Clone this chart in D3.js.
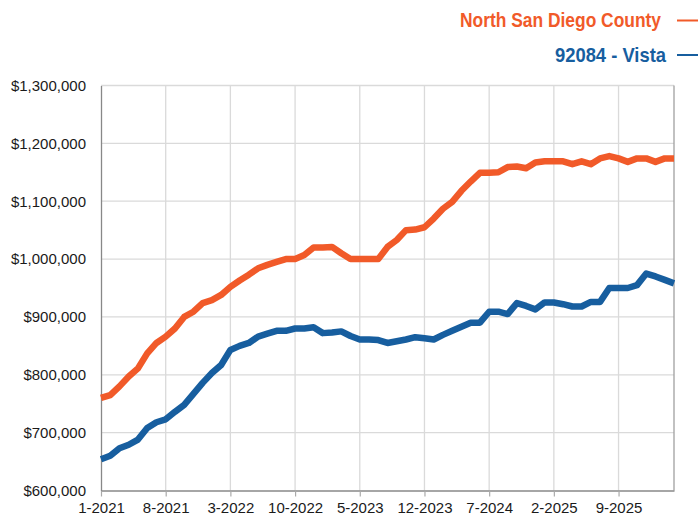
<!DOCTYPE html>
<html>
<head>
<meta charset="utf-8">
<script src="https://cdn.jsdelivr.net/npm/d3@7"></script>
<style>
  html, body { margin: 0; padding: 0; background: #fff; }
  svg { display: block; }
</style>
</head>
<body>
<svg id="chart" width="698" height="518"></svg>
<script>
// Monthly categories, 1-2021 through 3-2026
const months = d3.timeMonths(new Date(2021, 0, 1), new Date(2026, 3, 1))
  .map(d => (d.getMonth() + 1) + "-" + d.getFullYear());

// Labelled x ticks
const xTickLabels = ["1-2021", "8-2021", "3-2022", "10-2022", "5-2023",
                     "12-2023", "7-2024", "2-2025", "9-2025"];

// Y axis ticks
const yTicks = [600000, 700000, 800000, 900000, 1000000, 1100000, 1200000, 1300000];

// Series names
const seriesNames = ["North San Diego County", "92084 - Vista"];

// North San Diego County median price
const northCounty = [
  760000, 765000, 780000, 797000, 811000, 837000, 855000, 866000, 880000, 900000,
  909000, 924000, 929000, 938000, 952000, 963000, 973000, 984000, 990000, 995000,
  1000000, 1000000, 1007000, 1020000, 1020000, 1021000, 1010000, 1000000, 1000000, 1000000,
  1000000, 1021000, 1033000, 1050000, 1051000, 1055000, 1070000, 1087000, 1099000, 1118000,
  1134000, 1149000, 1149000, 1150000, 1159000, 1160000, 1157000, 1167000, 1169000, 1169000,
  1169000, 1164000, 1169000, 1164000, 1174000, 1178000, 1174000, 1168000, 1174000, 1174000,
  1168000, 1174000, 1174000
];

// 92084 - Vista median price
const vista = [
  654000, 660000, 673000, 679000, 688000, 708000, 718000, 723000, 736000, 748000,
  767000, 786000, 803000, 817000, 843000, 850000, 855000, 866000, 871000, 876000,
  876000, 880000, 880000, 882000, 872000, 873000, 875000, 867000, 861000, 861000,
  860000, 855000, 858000, 861000, 865000, 863000, 861000, 869000, 876000, 883000,
  890000, 890000, 909000, 909000, 905000, 924000, 919000, 913000, 925000, 925000,
  922000, 918000, 918000, 926000, 926000, 950000, 950000, 950000, 955000, 975000,
  970000, 964000, 958000
];

const colors = ["#f15a29", "#175e9f"];

const svg = d3.select("#chart");
const plot = { left: 101, right: 674, top: 85.5, bottom: 490.5 };

const x = d3.scalePoint().domain(months).range([plot.left, plot.right]).padding(0);
const y = d3.scaleLinear().domain([600000, 1300000]).range([plot.bottom, plot.top]);

const fontAxis = "'Liberation Sans', Arial, Helvetica, sans-serif";

// Horizontal grid lines
svg.append("g")
  .selectAll("line")
  .data(yTicks.slice(1))
  .join("line")
  .attr("x1", plot.left).attr("x2", plot.right)
  .attr("y1", d => y(d)).attr("y2", d => y(d))
  .attr("stroke", "#dadada").attr("stroke-width", 1.3);

// Vertical grid lines
svg.append("g")
  .selectAll("line")
  .data(xTickLabels.slice(1))
  .join("line")
  .attr("x1", d => x(d)).attr("x2", d => x(d))
  .attr("y1", plot.top).attr("y2", plot.bottom)
  .attr("stroke", "#dadada").attr("stroke-width", 1.3);

// Right frame edge
svg.append("line")
  .attr("x1", plot.right).attr("x2", plot.right)
  .attr("y1", plot.top).attr("y2", plot.bottom)
  .attr("stroke", "#a0a0a0").attr("stroke-width", 1.3);

// X axis
const xAxis = svg.append("g")
  .attr("transform", `translate(0,${plot.bottom})`)
  .call(d3.axisBottom(x).tickValues(xTickLabels).tickSize(6).tickSizeOuter(0).tickPadding(6));
xAxis.select(".domain").attr("stroke", "#888").attr("stroke-width", 1.3);
xAxis.selectAll(".tick line").attr("stroke", "#aaa").attr("stroke-width", 1.2);
xAxis.selectAll("text")
  .attr("fill", "#1a1a1a")
  .style("font-family", fontAxis)
  .style("font-size", "15px");

// Y axis
const yAxis = svg.append("g")
  .attr("transform", `translate(${plot.left},0)`)
  .call(d3.axisLeft(y).tickValues(yTicks).tickSize(0).tickPadding(15)
    .tickFormat(d => "$" + d3.format(",")(d)));
yAxis.select(".domain").attr("stroke", "#888").attr("stroke-width", 1.3);
yAxis.selectAll("text")
  .attr("fill", "#1a1a1a")
  .style("font-family", fontAxis)
  .style("font-size", "15px");

// Series lines
const line = d3.line()
  .x((d, i) => x(months[i]))
  .y(d => y(d));

[northCounty, vista].forEach((vals, k) => {
  svg.append("path")
    .datum(vals)
    .attr("fill", "none")
    .attr("stroke", colors[k])
    .attr("stroke-width", 6.5)
    .attr("stroke-linejoin", "round")
    .attr("stroke-linecap", "butt")
    .attr("d", line);
});

// Legend (condensed bold labels, right aligned, with a short line key)
const legend = [
  { name: seriesNames[0], color: colors[0], textEnd: 661, width: 201, baseline: 27.3, lineY: 20.5 },
  { name: seriesNames[1], color: colors[1], textEnd: 666, width: 111, baseline: 61.7, lineY: 55 }
];
legend.forEach(l => {
  svg.append("text")
    .attr("x", l.textEnd - l.width).attr("y", l.baseline)
    .attr("textLength", l.width)
    .attr("lengthAdjust", "spacingAndGlyphs")
    .attr("fill", l.color)
    .style("font-family", fontAxis)
    .style("font-weight", "bold")
    .style("font-size", "21px")
    .text(l.name);
  svg.append("line")
    .attr("x1", 677).attr("x2", 700)
    .attr("y1", l.lineY).attr("y2", l.lineY)
    .attr("stroke", l.color).attr("stroke-width", 2);
});
</script>
</body>
</html>
